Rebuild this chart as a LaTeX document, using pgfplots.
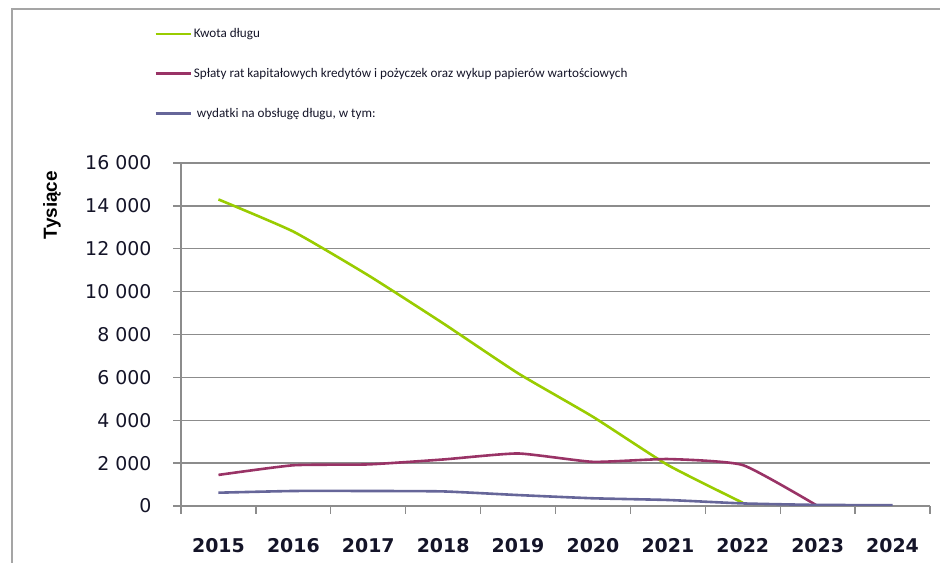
\documentclass[border=0pt]{standalone}
\usepackage{pgfplots}
\pgfplotsset{compat=1.18}
\usepackage{fontspec}
\setmainfont{DejaVu Sans}
\newfontfamily\legfont{Carlito}
\newfontfamily\labfont{Liberation Sans}
\definecolor{cgreen}{RGB}{153,204,0}
\definecolor{cpurple}{RGB}{153,51,102}
\definecolor{cblue}{RGB}{102,102,153}
\definecolor{cgrid}{RGB}{140,140,140}
\definecolor{cframe}{RGB}{165,165,165}
\definecolor{ctext}{RGB}{20,20,40}
\begin{document}
\begin{tikzpicture}[x=1bp,y=1bp]
\useasboundingbox (0,0) rectangle (940,563);
\draw[cframe, line width=2bp] (12,-10) -- (12,554) -- (960,554);
\node[rotate=90, font=\labfont\bfseries\fontsize{19}{22}\selectfont] at (52,358) {Tysiące};
\begin{axis}[
  at={(181bp,57bp)}, anchor=south west,
  scale only axis, width=749bp, height=343bp,
  xmin=-0.5, xmax=9.5, ymin=0, ymax=16000,
  axis x line*=bottom, axis y line*=left,
  axis line style={cgrid, line width=1.3bp},
  xtick={-0.5,0.5,...,9.5},
  xticklabels={2015,2016,2017,2018,2019,2020,2021,2022,2023,2024,{}},
  x tick label style={xshift=37.45bp, yshift=-21bp, text=ctext, font=\bfseries\fontsize{19}{22}\selectfont},
  ytick={0,2000,...,16000},
  scaled y ticks=false,
  y tick label style={text=ctext, font=\fontsize{19}{22}\selectfont, xshift=-18bp},
  yticklabel={\pgfmathprintnumber[assume math mode=true, set thousands separator={\ }, fixed]{\tick}},
  /pgf/number format/assume math mode=true,
  tick align=outside, major tick length=8bp,
  tick style={cgrid, line width=1.3bp},
  ymajorgrids, grid style={cgrid, line width=1.3bp},
  legend cell align=left,
  legend style={at={(rel axis cs:-0.036,1.398)}, anchor=north west, draw=none, fill=none,
    text=ctext, font=\legfont\fontsize{13.2}{15}\selectfont, row sep=25bp, inner sep=0pt},
  legend image code/.code={\draw[#1] (0bp,0bp) -- (35bp,0bp);},
  every axis plot/.append style={line width=2.6bp, smooth, tension=0.3},
]
\addplot[cgreen] coordinates {(0,14300) (1,12800) (2,10760) (3,8520) (4,6190) (5,4160) (6,1910) (7,150)};
\addlegendentry{Kwota długu}
\addplot[cpurple] coordinates {(0,1450) (1,1900) (2,1940) (3,2170) (4,2450) (5,2060) (6,2190) (7,1910) (8,0)};
\addlegendentry{Spłaty rat kapitałowych kredytów i pożyczek oraz wykup papierów wartościowych}
\addplot[cblue] coordinates {(0,620) (1,700) (2,700) (3,680) (4,510) (5,360) (6,280) (7,120) (8,50) (9,40)};
\addlegendentry{\ wydatki na obsługę długu, w tym:}
\end{axis}
\end{tikzpicture}
\end{document}
